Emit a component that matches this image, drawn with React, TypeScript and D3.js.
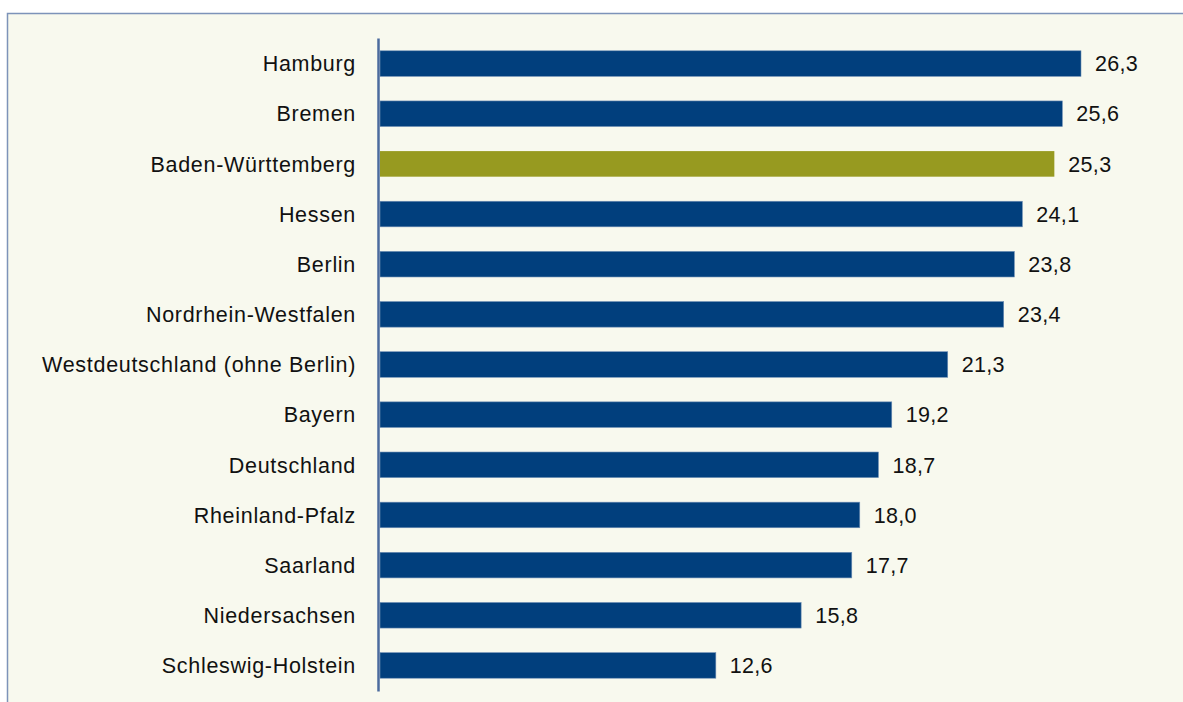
import React from "react";
import * as d3 from "d3";

const regions = [
  "Hamburg",
  "Bremen",
  "Baden-Württemberg",
  "Hessen",
  "Berlin",
  "Nordrhein-Westfalen",
  "Westdeutschland (ohne Berlin)",
  "Bayern",
  "Deutschland",
  "Rheinland-Pfalz",
  "Saarland",
  "Niedersachsen",
  "Schleswig-Holstein",
];
const values = [26.3, 25.6, 25.3, 24.1, 23.8, 23.4, 21.3, 19.2, 18.7, 18.0, 17.7, 15.8, 12.6];
const highlighted = ["Baden-Württemberg"];

const W = 1183;
const H = 702;

export default function App() {
  // zero sits at the axis line, Hamburg ends near the right edge
  const x = d3.scaleLinear().domain([0, 26.3]).range([380, 1081]);
  const y = d3
    .scaleBand<string>()
    .domain(regions)
    .range([38.5, 690.5])
    .paddingInner(0.49)
    .paddingOuter(0.245);

  const fmt = (v: number) => d3.format(".1f")(v).replace(".", ",");

  return (
    <svg
      width={W}
      height={H}
      style={{ position: "absolute", left: 0, top: 0 }}
      fontFamily="'Liberation Sans', Arial, sans-serif"
    >
      <rect x={0} y={0} width={W} height={H} fill="#ffffff" />
      {/* panel */}
      <rect
        x={7.5}
        y={13.5}
        width={W + 10}
        height={H + 10}
        fill="#f8f9ee"
        stroke="#7d93b9"
        strokeWidth={1.5}
      />

      {regions.map((r, i) => {
        const yy = y(r)!;
        const bw = y.bandwidth();
        return (
          <g key={r}>
            <rect
              x={x(0)}
              y={yy}
              width={x(values[i]) - x(0)}
              height={bw}
              fill={highlighted.includes(r) ? "#979a20" : "#013f7d"}
              stroke={highlighted.includes(r) ? "none" : "#6f8fb5"}
              strokeWidth={0.6}
            />
            <text
              x={356}
              y={yy + bw / 2}
              dy="0.36em"
              textAnchor="end"
              fontSize={21.5}
              letterSpacing={0.7}
              fill="#111"
            >
              {r}
            </text>
            <text
              x={x(values[i]) + 14}
              y={yy + bw / 2}
              dy="0.36em"
              fontSize={21.5}
              letterSpacing={0.3}
              fill="#111"
            >
              {fmt(values[i])}
            </text>
          </g>
        );
      })}

      {/* category axis line */}
      <line
        x1={378.5}
        x2={378.5}
        y1={y.range()[0]}
        y2={y.range()[1] + 1}
        stroke="#4c6b9e"
        strokeWidth={2.5}
      />
    </svg>
  );
}
